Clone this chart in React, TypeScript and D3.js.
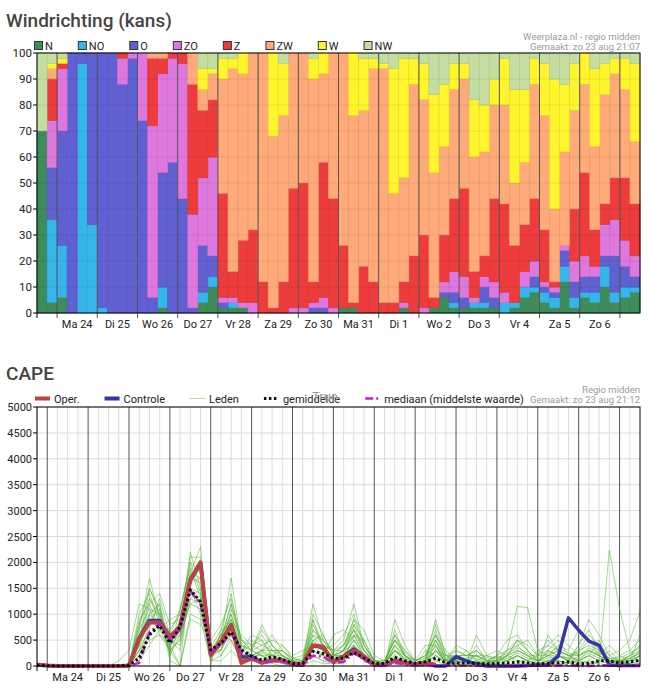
import * as d3 from "d3";

/* Windrichting (kans) + CAPE pluim, Weerplaza regio midden. */

const DIRECTIONS = ["N", "NO", "O", "ZO", "Z", "ZW", "W", "NW"];
const DIR_COLORS = ["#3d8c5a", "#35b6ea", "#6060d2", "#de78de", "#ee3c3c", "#ffaa78", "#fff52d", "#c3dea0"];

// kans (%) per richting, blokken van 6 uur vanaf zo 23 aug 12:00
const N = [70, 4, 6, 0, 0, 0, 0, 0, 0, 0, 0, 0, 2, 0, 0, 0, 4, 10, 2, 2, 2, 0, 0, 0, 0, 0, 0, 0, 0, 0, 2, 2, 0, 0, 0, 0, 2, 0, 0, 2, 6, 2, 2, 2, 2, 2, 0, 2, 6, 8, 4, 2, 12, 2, 6, 4, 10, 4, 6, 8];
const NO = [0, 32, 20, 0, 96, 34, 2, 0, 0, 0, 0, 0, 8, 0, 0, 0, 4, 4, 0, 2, 0, 0, 0, 0, 0, 0, 0, 0, 0, 0, 0, 0, 0, 0, 0, 0, 0, 0, 0, 0, 0, 2, 0, 2, 2, 0, 4, 2, 4, 2, 4, 4, 6, 4, 2, 4, 8, 4, 4, 2];
const O = [0, 20, 44, 100, 4, 66, 98, 100, 88, 98, 74, 6, 44, 58, 44, 2, 18, 8, 2, 0, 0, 0, 0, 0, 0, 0, 0, 2, 2, 0, 0, 0, 0, 0, 0, 0, 0, 0, 0, 0, 2, 4, 4, 0, 6, 4, 0, 0, 0, 4, 2, 2, 6, 6, 6, 6, 4, 14, 8, 4];
const ZO = [0, 18, 24, 0, 0, 0, 0, 0, 10, 2, 26, 66, 38, 40, 52, 36, 26, 38, 2, 2, 2, 4, 0, 0, 0, 2, 2, 2, 4, 2, 0, 0, 0, 0, 0, 0, 2, 0, 2, 0, 4, 8, 8, 2, 4, 6, 4, 0, 6, 6, 2, 2, 2, 8, 8, 4, 12, 14, 10, 8];
const Z = [0, 16, 2, 0, 0, 0, 0, 0, 2, 0, 0, 26, 6, 2, 4, 50, 26, 22, 40, 10, 24, 28, 12, 2, 12, 46, 48, 8, 52, 42, 24, 2, 18, 12, 4, 4, 8, 22, 28, 4, 18, 28, 34, 10, 8, 32, 34, 22, 18, 24, 20, 2, 0, 20, 32, 14, 8, 16, 24, 20];
const ZW = [0, 4, 0, 0, 0, 0, 0, 0, 0, 0, 0, 2, 2, 0, 0, 12, 8, 10, 44, 78, 64, 68, 88, 66, 64, 52, 50, 78, 34, 56, 74, 72, 60, 82, 90, 42, 40, 66, 52, 48, 34, 42, 42, 44, 40, 36, 38, 24, 24, 44, 44, 28, 36, 38, 34, 32, 42, 40, 34, 24];
const W = [0, 2, 2, 0, 0, 0, 0, 0, 0, 0, 0, 0, 0, 0, 0, 0, 8, 2, 8, 4, 8, 0, 0, 32, 20, 0, 0, 8, 8, 0, 0, 24, 20, 4, 2, 48, 46, 10, 14, 30, 24, 10, 6, 22, 18, 10, 18, 36, 28, 10, 20, 50, 26, 18, 12, 30, 12, 6, 12, 30];
const NW = [30, 4, 2, 0, 0, 0, 0, 0, 0, 0, 0, 0, 0, 0, 0, 0, 6, 6, 2, 2, 0, 0, 0, 0, 4, 0, 0, 2, 0, 0, 0, 0, 2, 2, 4, 6, 2, 2, 4, 16, 12, 4, 4, 18, 20, 10, 2, 14, 14, 2, 4, 10, 12, 4, 0, 6, 4, 2, 2, 4];
const WIND_SERIES = [N, NO, O, ZO, Z, ZW, W, NW];

const DAY_LABELS = ["Ma 24", "Di 25", "Wo 26", "Do 27", "Vr 28", "Za 29", "Zo 30", "Ma 31", "Di 1", "Wo 2", "Do 3", "Vr 4", "Za 5", "Zo 6"];
const WIND_TICKS = [0, 10, 20, 30, 40, 50, 60, 70, 80, 90, 100];
const CAPE_TICKS = [0, 500, 1000, 1500, 2000, 2500, 3000, 3500, 4000, 4500, 5000];

// CAPE (J/kg), elke 6 uur vanaf zo 23 aug 18:00
const OPER = [25, 10, 0, 0, 0, 0, 0, 0, 0, 0, 530, 840, 840, 560, 760, 1670, 2000, 210, 470, 790, 60, 150, 60, 100, 115, 40, 20, 400, 370, 80, 180, 300, 180, 20, 20, 100, 60, 30, 70, 20];
const CONTROLE = [25, 10, 0, 0, 0, 0, 0, 0, 0, 0, 540, 880, 880, 560, 770, 1650, 1990, 220, 470, 800, 170, 190, 70, 110, 110, 40, 20, 390, 360, 90, 190, 330, 190, 20, 20, 110, 60, 30, 60, 0, 0, 180, 100, 40, 0, 0, 0, 0, 10, 20, 20, 190, 930, 690, 480, 400, 20, 10, 10, 10];
const GEMIDDELDE = [20, 5, 0, 0, 0, 0, 0, 0, 5, 20, 150, 600, 780, 440, 760, 1470, 1240, 310, 440, 660, 310, 190, 115, 180, 130, 50, 50, 280, 240, 150, 150, 260, 150, 50, 50, 170, 100, 50, 80, 150, 60, 50, 60, 50, 40, 50, 60, 80, 60, 40, 50, 60, 80, 40, 50, 100, 100, 60, 80, 110];
const MEDIAAN = [10, 0, 0, 0, 0, 0, 0, 0, 0, 0, 60, 650, 820, 480, 700, 1450, 1200, 260, 400, 650, 250, 150, 60, 100, 80, 20, 10, 200, 180, 60, 80, 250, 120, 10, 10, 60, 30, 10, 20, 10, 10, 10, 10, 10, 0, 10, 10, 20, 10, 0, 10, 10, 20, 0, 0, 20, 10, 0, 10, 10];
const LEDEN = [
  [30, 0, 0, 0, 0, 0, 0, 0, 0, 0, 400, 900, 1100, 300, 0, 1800, 2300, 200, 300, 900, 200, 100, 300, 200, 100, 50, 20, 600, 300, 100, 200, 800, 300, 50, 20, 300, 100, 20, 50, 400, 100, 50, 20, 100, 50, 20, 50, 200, 100, 20, 50, 100, 50, 20, 50, 100, 300, 100, 50, 100],
  [20, 0, 0, 0, 0, 0, 0, 0, 0, 50, 700, 1700, 900, 500, 800, 2200, 1500, 100, 500, 1700, 400, 300, 800, 400, 200, 100, 50, 1200, 500, 300, 500, 1200, 400, 100, 50, 600, 200, 50, 100, 900, 200, 100, 50, 600, 200, 100, 300, 1150, 1130, 300, 200, 100, 50, 200, 300, 200, 100, 50, 20, 50],
  [40, 0, 0, 0, 0, 0, 0, 0, 0, 0, 200, 600, 800, 700, 1000, 1400, 1200, 300, 600, 500, 100, 200, 100, 300, 150, 20, 0, 300, 200, 600, 700, 500, 200, 20, 0, 200, 50, 0, 20, 300, 50, 200, 100, 50, 0, 0, 100, 300, 200, 50, 300, 500, 200, 100, 50, 50, 2240, 1100, 300, 50],
  [30, 0, 0, 0, 0, 0, 0, 0, 100, 300, 1200, 1100, 600, 400, 0, 1000, 900, 100, 200, 600, 300, 200, 200, 100, 50, 0, 100, 500, 600, 200, 300, 400, 100, 0, 0, 900, 400, 100, 50, 200, 100, 400, 300, 100, 50, 50, 200, 500, 300, 100, 100, 200, 100, 50, 100, 300, 100, 50, 100, 300],
  [20, 0, 0, 0, 0, 0, 0, 0, 0, 0, 300, 700, 1300, 600, 700, 1700, 2000, 400, 300, 1100, 500, 400, 600, 300, 300, 100, 0, 900, 300, 100, 100, 600, 500, 100, 0, 400, 100, 0, 0, 500, 0, 100, 50, 300, 100, 0, 0, 100, 50, 0, 600, 300, 100, 400, 900, 600, 200, 100, 50, 200],
  [50, 0, 0, 0, 0, 0, 0, 0, 0, 0, 500, 1300, 1000, 200, 600, 1200, 1100, 50, 700, 800, 300, 500, 400, 500, 400, 200, 300, 400, 200, 200, 400, 900, 700, 200, 100, 500, 300, 100, 200, 600, 300, 100, 0, 50, 100, 200, 500, 600, 300, 100, 200, 400, 300, 700, 500, 200, 50, 0, 0, 0],
  [30, 0, 0, 0, 0, 0, 0, 0, 0, 0, 100, 400, 700, 900, 1000, 2000, 1800, 200, 400, 600, 200, 100, 100, 50, 0, 0, 50, 200, 100, 50, 50, 300, 100, 0, 50, 100, 50, 20, 300, 200, 50, 0, 0, 0, 0, 0, 0, 50, 20, 0, 0, 50, 0, 0, 0, 0, 0, 0, 0, 0],
  [20, 0, 0, 0, 0, 0, 0, 0, 0, 0, 600, 1000, 1200, 400, 900, 1600, 1700, 300, 500, 1000, 300, 200, 300, 600, 300, 100, 50, 700, 400, 300, 300, 700, 300, 50, 20, 700, 200, 50, 100, 700, 100, 300, 200, 200, 100, 100, 300, 400, 500, 200, 300, 200, 100, 300, 600, 400, 200, 300, 500, 1050],
  [30, 0, 0, 0, 0, 0, 0, 0, 0, 0, 800, 1500, 1100, 100, 0, 900, 800, 500, 800, 1300, 500, 300, 200, 200, 100, 50, 100, 400, 300, 400, 600, 1000, 400, 100, 0, 300, 150, 0, 50, 300, 200, 200, 100, 0, 50, 200, 100, 200, 100, 200, 500, 300, 200, 100, 200, 500, 100, 50, 200, 400],
  [40, 0, 0, 0, 0, 0, 0, 0, 0, 0, 300, 500, 600, 300, 500, 2100, 2100, 100, 100, 300, 100, 100, 50, 100, 50, 0, 0, 100, 50, 50, 100, 300, 100, 0, 0, 100, 50, 0, 0, 100, 0, 50, 100, 200, 50, 0, 0, 0, 0, 0, 100, 50, 0, 50, 100, 50, 0, 0, 100, 200],
  [20, 0, 0, 0, 0, 0, 0, 0, 0, 0, 900, 1200, 700, 600, 700, 1300, 1500, 200, 600, 900, 600, 400, 500, 200, 400, 150, 200, 1000, 600, 200, 200, 500, 300, 50, 100, 300, 200, 100, 400, 400, 0, 100, 300, 100, 200, 300, 200, 100, 100, 300, 400, 600, 400, 200, 300, 200, 100, 200, 300, 500],
  [30, 0, 0, 0, 0, 0, 0, 0, 0, 0, 200, 800, 900, 500, 300, 1500, 1000, 300, 300, 700, 200, 300, 200, 100, 100, 0, 0, 200, 100, 100, 100, 400, 200, 0, 0, 200, 100, 50, 50, 200, 50, 100, 50, 100, 0, 50, 100, 200, 100, 50, 100, 100, 50, 100, 200, 100, 50, 100, 200, 300],
  [50, 0, 0, 0, 0, 0, 0, 0, 0, 0, 1000, 1400, 800, 300, 1100, 1900, 1300, 200, 500, 1200, 400, 200, 300, 400, 200, 50, 0, 300, 200, 50, 300, 600, 200, 50, 0, 400, 200, 0, 100, 500, 100, 200, 100, 400, 100, 50, 200, 300, 200, 100, 200, 200, 100, 100, 300, 200, 400, 200, 100, 600],
  [30, 0, 0, 0, 0, 0, 0, 0, 0, 0, 500, 1000, 800, 500, 600, 1700, 1600, 400, 200, 500, 100, 200, 100, 200, 200, 100, 50, 500, 300, 200, 300, 700, 300, 100, 50, 500, 200, 50, 100, 300, 100, 200, 200, 200, 100, 100, 200, 500, 400, 200, 200, 300, 200, 300, 400, 300, 100, 50, 50, 200],
  [30, 0, 0, 0, 0, 0, 0, 0, 0, 0, 700, 1100, 1000, 500, 400, 1500, 1400, 250, 600, 1000, 400, 300, 400, 300, 200, 100, 100, 800, 400, 300, 400, 800, 500, 100, 50, 600, 300, 100, 200, 800, 200, 300, 200, 300, 100, 100, 200, 300, 200, 100, 200, 300, 200, 200, 300, 200, 100, 100, 200, 400],
  [20, 0, 0, 0, 0, 0, 0, 0, 0, 0, 400, 1200, 1400, 800, 900, 1800, 1700, 350, 700, 1400, 300, 600, 500, 200, 300, 150, 100, 600, 500, 200, 300, 900, 400, 100, 100, 500, 200, 100, 200, 600, 100, 200, 100, 200, 100, 200, 300, 500, 300, 100, 300, 200, 100, 400, 700, 300, 100, 100, 100, 300],
  [40, 0, 0, 0, 0, 0, 0, 0, 0, 0, 600, 900, 700, 300, 500, 1300, 1200, 150, 400, 800, 200, 200, 300, 100, 100, 50, 50, 400, 300, 200, 200, 500, 200, 50, 50, 300, 100, 50, 100, 400, 50, 100, 100, 50, 50, 100, 100, 200, 100, 50, 100, 200, 150, 100, 200, 100, 50, 100, 100, 200],
  [30, 0, 0, 0, 0, 0, 0, 0, 0, 0, 300, 1000, 1200, 200, 800, 1600, 1900, 300, 500, 1200, 500, 300, 700, 400, 200, 100, 150, 900, 400, 150, 300, 600, 300, 100, 50, 400, 200, 50, 150, 500, 150, 200, 200, 300, 150, 150, 200, 400, 200, 200, 400, 300, 200, 250, 500, 300, 150, 100, 150, 250],
  [20, 0, 0, 0, 0, 0, 0, 0, 0, 0, 800, 1300, 900, 400, 600, 1200, 1300, 250, 600, 900, 300, 400, 300, 300, 300, 150, 100, 700, 500, 250, 400, 700, 400, 100, 100, 500, 250, 100, 150, 600, 200, 150, 150, 200, 200, 150, 250, 350, 250, 150, 250, 350, 250, 200, 350, 250, 150, 150, 250, 350],
  [40, 0, 0, 0, 0, 0, 0, 0, 0, 0, 500, 1500, 1000, 600, 1100, 2000, 1400, 200, 300, 700, 250, 150, 250, 200, 150, 50, 50, 500, 300, 100, 200, 400, 200, 50, 50, 300, 150, 50, 100, 300, 100, 150, 100, 150, 50, 100, 150, 250, 150, 100, 150, 200, 150, 150, 250, 150, 100, 100, 150, 250],
];

const WIND_START = new Date(2020, 7, 23, 12);
const WIND_END = new Date(2020, 8, 7, 12);
const CAPE_START = new Date(2020, 7, 23, 18);
const CAPE_END = new Date(2020, 8, 7, 12);
const DAYS = d3.timeDay.range(new Date(2020, 7, 24), new Date(2020, 8, 8));

const FONT = "Roboto, Arial, sans-serif";
const PLOT_L = 37;
const PLOT_R = 640;

const ctx = document.createElement("canvas").getContext("2d");
function textWidth(s: string, size: number) {
  if (!ctx) return s.length * size * 0.55;
  ctx.font = `${size}px Roboto`;
  return ctx.measureText(s).width;
}

function WindChart() {
  const top = 53;
  const bottom = 313;
  const x = d3.scaleTime().domain([WIND_START, WIND_END]).range([PLOT_L, PLOT_R]);
  const y = d3.scaleLinear().domain([0, 100]).range([bottom, top]);

  const rows = N.map((_, i) => {
    const r: Record<string, number> = {};
    DIRECTIONS.forEach((k, d) => (r[k] = WIND_SERIES[d][i]));
    return r;
  });
  const stacked = d3.stack<Record<string, number>>().keys(DIRECTIONS)(rows);

  let lx = 34;
  const legend = DIRECTIONS.map((k, i) => {
    const item = { k, x: lx, color: DIR_COLORS[i] };
    lx += 11 + textWidth(k, 11) + 25;
    return item;
  });

  return (
    <g fontFamily={FONT}>
      <text x={6} y={27} fontSize={19} fontWeight={500} fill="#444">Windrichting (kans)</text>
      <text x={PLOT_R} y={40} fontSize={9.5} fill="#9a9a9a" textAnchor="end">Weerplaza.nl - regio midden</text>
      <text x={PLOT_R} y={50} fontSize={9.5} fill="#9a9a9a" textAnchor="end">Gemaakt: zo 23 aug 21:07</text>

      {legend.map((l) => (
        <g key={l.k}>
          <rect x={l.x + 0.5} y={41.5} width={8} height={8} fill={l.color} stroke="#333" strokeWidth={1} />
          <text x={l.x + 11} y={49.5} fontSize={11} fill="#222">{l.k}</text>
        </g>
      ))}

      {stacked.map((layer, d) => {
        const c = DIR_COLORS[d];
        const edge = d3.color(c)!.darker(0.35).formatHex();
        return (
          <g key={layer.key} fill={c} stroke={edge} strokeWidth={0.6}>
            {layer.map((seg, i) => {
              if (seg[1] - seg[0] <= 0) return null;
              const t0 = d3.timeHour.offset(WIND_START, 6 * i);
              const t1 = d3.timeHour.offset(t0, 6);
              return (
                <rect
                  key={i}
                  x={x(t0)}
                  width={x(t1) - x(t0)}
                  y={y(seg[1])}
                  height={y(seg[0]) - y(seg[1])}
                />
              );
            })}
          </g>
        );
      })}

      {WIND_TICKS.map((v) => (
        <g key={v}>
          {v > 0 && v < 100 && (
            <line x1={PLOT_L} x2={PLOT_R} y1={y(v)} y2={y(v)} stroke="#000" strokeOpacity={0.07} />
          )}
          <line x1={PLOT_L - 4} x2={PLOT_L} y1={y(v)} y2={y(v)} stroke="#000" />
          <text x={PLOT_L - 5} y={y(v) + 4} fontSize={11.5} textAnchor="end" fill="#222">{v}</text>
        </g>
      ))}

      {DAYS.map((d, i) => (
        <line key={i} x1={x(d)} x2={x(d)} y1={top} y2={bottom + 5} stroke="#555" strokeWidth={1} />
      ))}
      {DAY_LABELS.map((lab, i) => (
        <text key={lab} x={x(d3.timeHour.offset(DAYS[i], 12))} y={328} fontSize={11} textAnchor="middle" fill="#222">
          {lab}
        </text>
      ))}

      <rect x={PLOT_L} y={top} width={PLOT_R - PLOT_L} height={bottom - top} fill="none" stroke="#000" strokeWidth={1} />
      <line x1={PLOT_L} x2={PLOT_L} y1={bottom} y2={bottom + 5} stroke="#000" />
    </g>
  );
}

function CapeChart() {
  const top = 407;
  const bottom = 666;
  const x = d3.scaleTime().domain([CAPE_START, CAPE_END]).range([PLOT_L, PLOT_R]);
  const y = d3.scaleLinear().domain([0, 5000]).range([bottom, top]);
  const at = (j: number) => x(d3.timeHour.offset(CAPE_START, 6 * j));
  const line = d3
    .line<number>()
    .x((_, j) => at(j))
    .y((v) => y(v));

  const grid6h = d3.timeHour.every(6)!.range(CAPE_START, CAPE_END).filter((t) => t.getHours() !== 0);

  const legendItems = [
    { k: "Oper.", stroke: "#b84444", width: 4, dash: undefined as string | undefined },
    { k: "Controle", stroke: "#3535a6", width: 4, dash: undefined },
    { k: "Leden", stroke: "#b9d9ac", width: 1, dash: undefined },
    { k: "gemiddelde", stroke: "#111", width: 3, dash: "2.5 2.5" },
    { k: "mediaan (middelste waarde)", stroke: "#c020c8", width: 2.5, dash: "8 3 2 3" },
  ];
  let lx = 35;
  const legend = legendItems.map((l) => {
    const item = { ...l, x: lx };
    lx += 19 + textWidth(l.k, 11) + 25;
    return item;
  });

  return (
    <g fontFamily={FONT}>
      <text x={6} y={380} fontSize={19} fontWeight={500} fill="#444">CAPE</text>
      <text x={PLOT_R} y={393} fontSize={9.5} fill="#9a9a9a" textAnchor="end">Regio midden</text>
      <text x={PLOT_R} y={403} fontSize={9.5} fill="#9a9a9a" textAnchor="end">Gemaakt: zo 23 aug 21:12</text>

      {grid6h.map((t, i) => (
        <line key={i} x1={x(t)} x2={x(t)} y1={top} y2={bottom} stroke="#dcdcdc" />
      ))}
      {CAPE_TICKS.map((v) => (
        <g key={v}>
          <line x1={PLOT_L} x2={PLOT_R} y1={y(v)} y2={y(v)} stroke="#dcdcdc" />
          <line x1={PLOT_L - 4} x2={PLOT_L} y1={y(v)} y2={y(v)} stroke="#000" />
          <text x={PLOT_L - 5} y={y(v) + 4} fontSize={11} textAnchor="end" fill="#222">{v}</text>
        </g>
      ))}
      {DAYS.map((d, i) => (
        <line key={i} x1={x(d)} x2={x(d)} y1={top} y2={bottom + 5} stroke="#555" />
      ))}
      {DAY_LABELS.map((lab, i) => (
        <text key={lab} x={x(d3.timeHour.offset(DAYS[i], 12))} y={681} fontSize={11} textAnchor="middle" fill="#222">
          {lab}
        </text>
      ))}

      <g fill="none" strokeLinejoin="round">
        {LEDEN.map((m, i) => (
          <path key={i} d={line(m) ?? ""} stroke="#4caf2a" strokeOpacity={0.5} strokeWidth={1} />
        ))}
        <path d={line(CONTROLE) ?? ""} stroke="#3535a6" strokeWidth={3.5} />
        <path d={line(OPER) ?? ""} stroke="#b84444" strokeWidth={4} />
        <path d={line(MEDIAAN) ?? ""} stroke="#c020c8" strokeWidth={2.5} strokeDasharray="8 3 2 3" />
        <path d={line(GEMIDDELDE) ?? ""} stroke="#111" strokeWidth={3} strokeDasharray="2.5 2.5" />
      </g>

      <rect x={PLOT_L} y={top} width={PLOT_R - PLOT_L} height={bottom - top} fill="none" stroke="#000" />
      <line x1={PLOT_L} x2={PLOT_L} y1={bottom} y2={bottom + 5} stroke="#000" />

      {legend.map((l) => (
        <g key={l.k}>
          <line x1={l.x} x2={l.x + 15} y1={398.5} y2={398.5} stroke={l.stroke} strokeWidth={l.width} strokeDasharray={l.dash} />
          <text x={l.x + 19} y={403} fontSize={11} fill="#222">{l.k}</text>
        </g>
      ))}
      <text x={312} y={401} fontSize={13} fill="#999">True</text>
    </g>
  );
}

export default function App() {
  return (
    <svg
      width={658}
      height={690}
      style={{ position: "absolute", left: 0, top: 0, background: "#fff" }}
    >
      <WindChart />
      <CapeChart />
    </svg>
  );
}
